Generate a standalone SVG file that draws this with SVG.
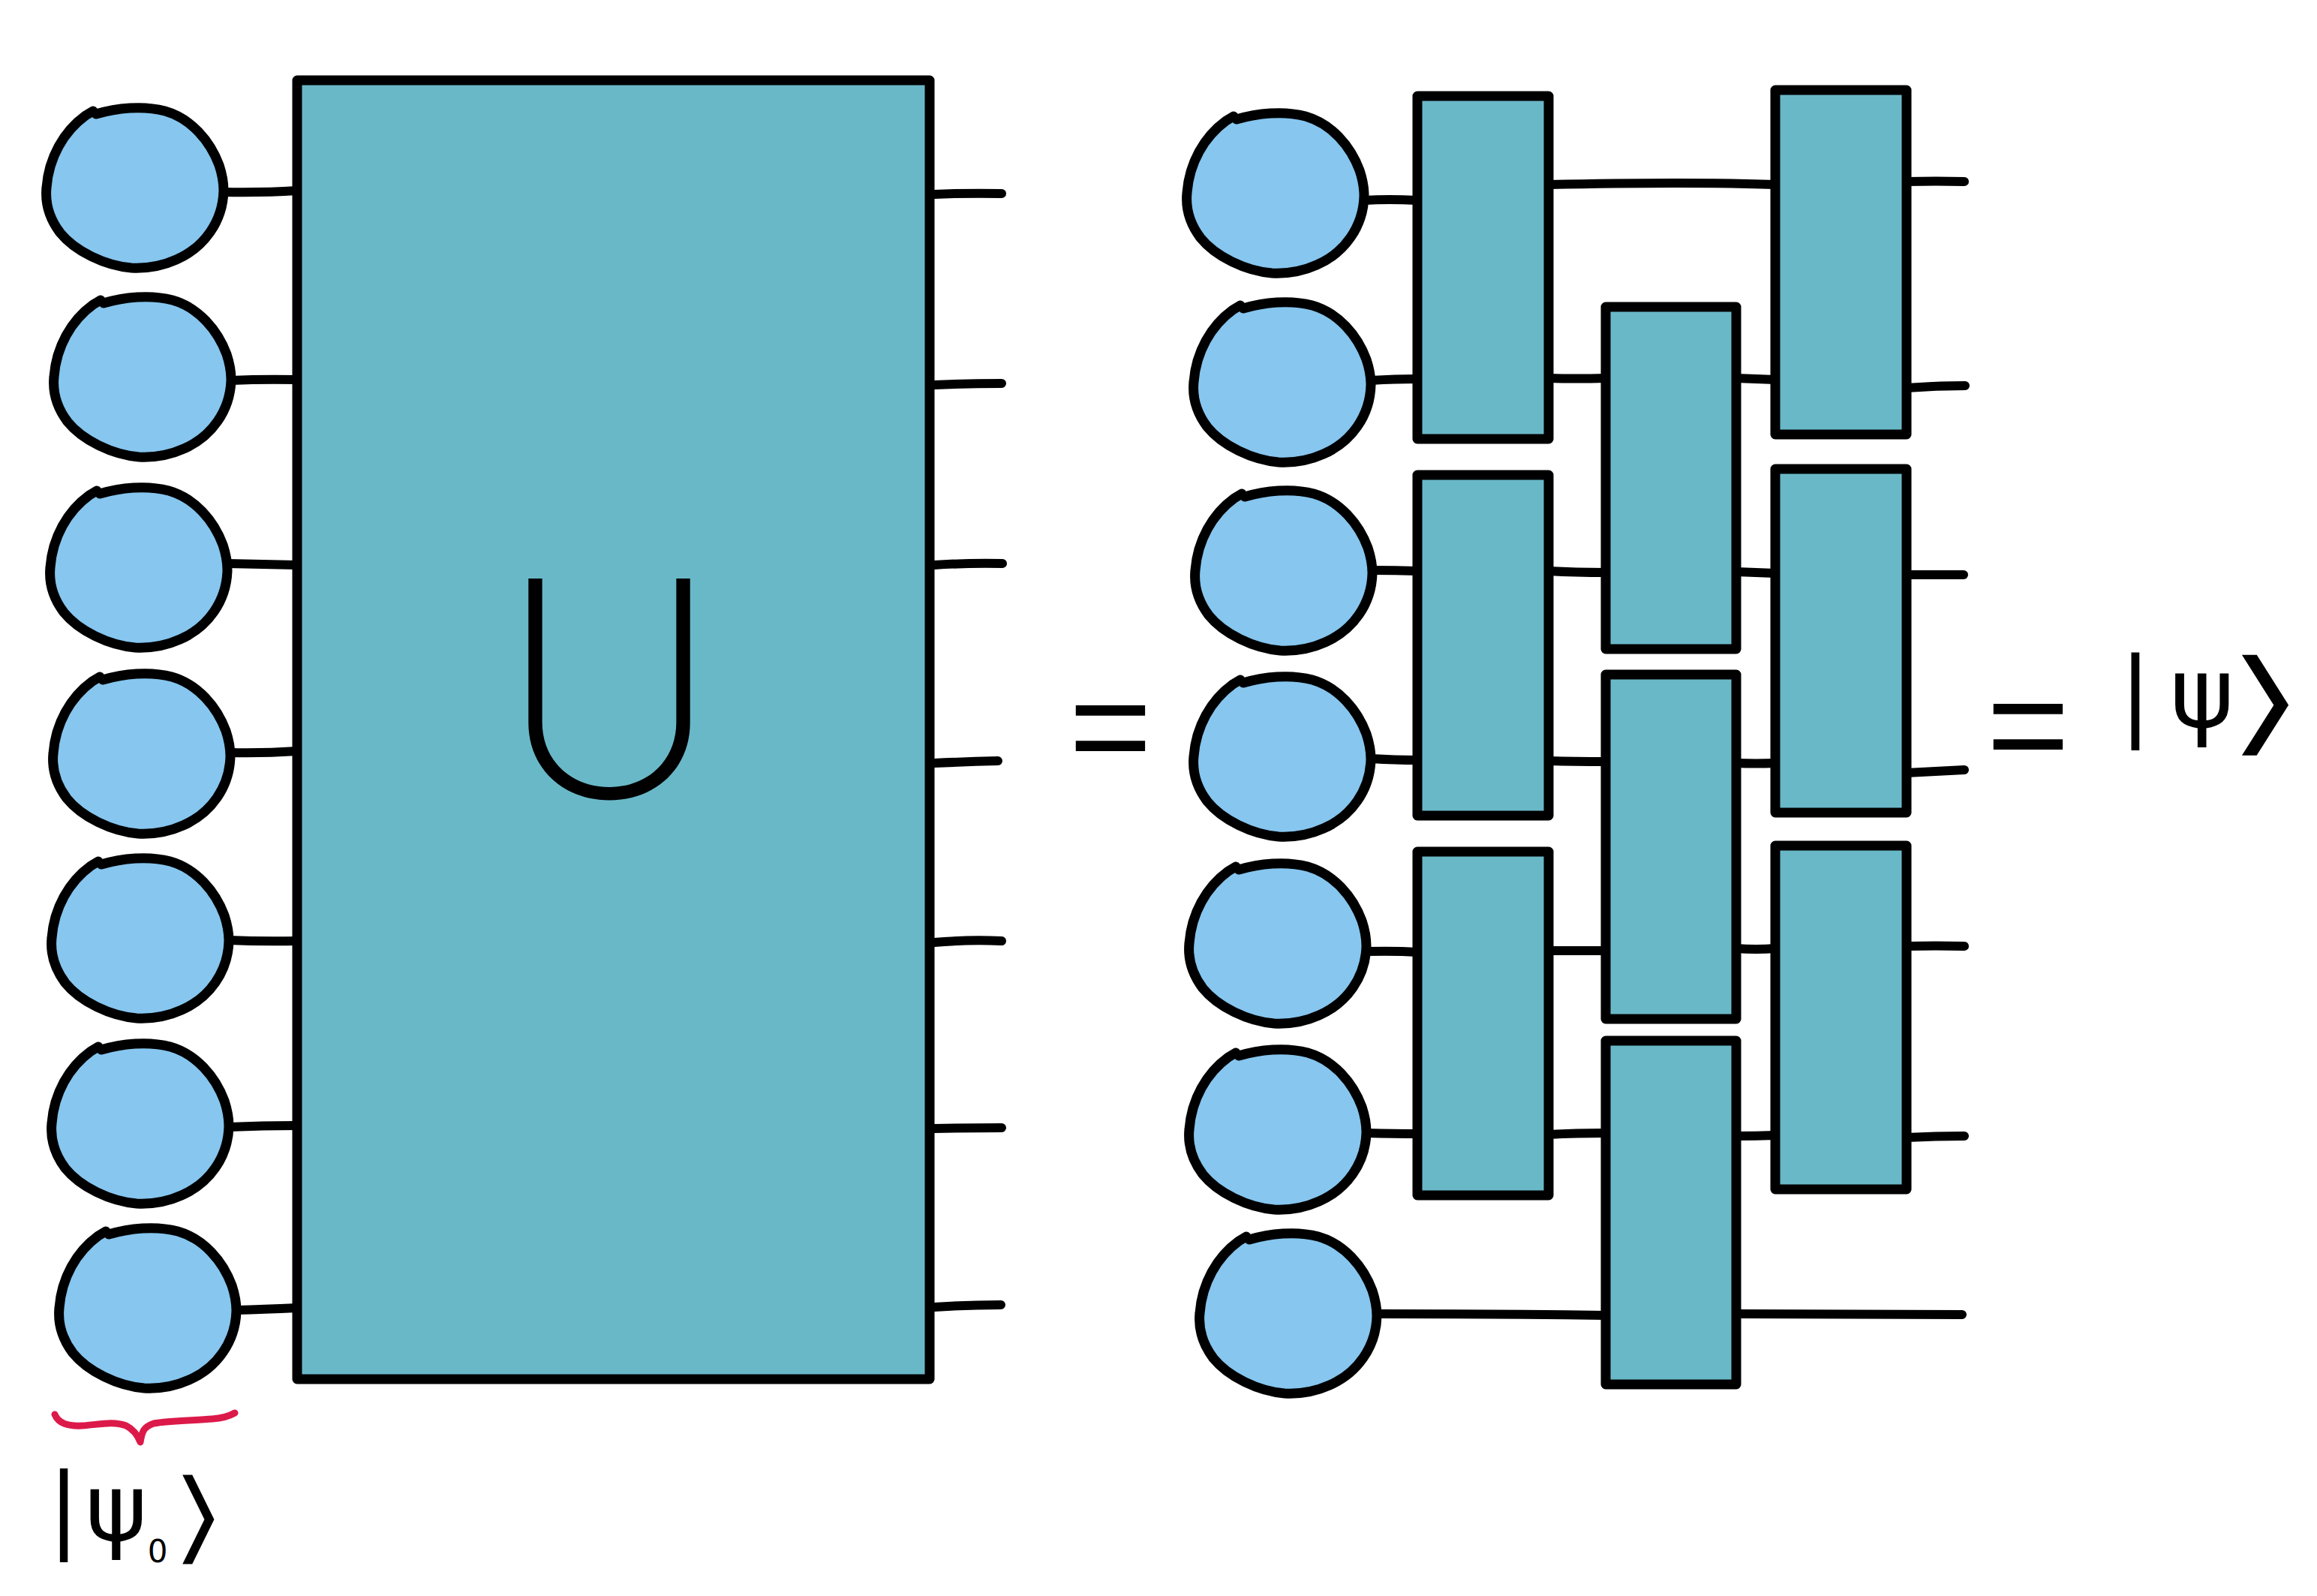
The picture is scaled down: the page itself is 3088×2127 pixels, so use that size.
<svg xmlns="http://www.w3.org/2000/svg" xmlns:xlink="http://www.w3.org/1999/xlink" width="3088" height="2127" viewBox="0 0 3088 2127">
<style>
.blob{fill:#86C6EF;stroke:#000;stroke-width:13;stroke-linejoin:round;stroke-linecap:round}
.box{fill:#69B8C8;stroke:#000;stroke-width:13;stroke-linejoin:round}
.wire{fill:none;stroke:#000;stroke-width:12;stroke-linecap:round}
.brace{fill:none;stroke:#DC1A4A;stroke-width:9;stroke-linecap:round;stroke-linejoin:round}
.math{font-family:"DejaVu Sans",sans-serif;fill:#000;text-anchor:middle}
.bra{stroke:#fff;stroke-width:3}
.eq{font-family:"Liberation Sans",sans-serif;fill:#000;text-anchor:middle}
.uop{font-family:Inter,Lato,"DejaVu Sans",sans-serif;font-weight:200;fill:#000;text-anchor:middle}
</style>
<defs>
<path id="blob" class="blob" d="M -52,-98 C -25,-106 10,-110 40,-102 C 75,-92 100,-62 112,-30 C 116,-18 118,-6 118,4 C 117,45 92,80 55,96 C 35,105 15,108 -5,107 C -40,104 -80,85 -100,60 C -115,40 -120,20 -118,0 C -115,-40 -95,-75 -66,-96 L -56,-102"/>
</defs>
<rect width="3088" height="2127" fill="#fff"/>

<g id="connectors">
<path class="wire" d="M298,256 Q350,257 396,254"/>
<path class="wire" d="M308,507 Q350,505 396,506"/>
<path class="wire" d="M303,751 Q350,752 396,753"/>
<path class="wire" d="M307,1003 Q350,1004 396,1001"/>
<path class="wire" d="M305,1253 Q350,1255 396,1254"/>
<path class="wire" d="M305,1502 Q350,1500 396,1500"/>
<path class="wire" d="M315,1746 Q350,1745 396,1743"/>
<path class="wire" d="M1245,259 Q1290,257 1335,258"/>
<path class="wire" d="M1245,513 Q1290,511 1335,511"/>
<path class="wire" d="M1245,753 Q1290,750 1336,751"/>
<path class="wire" d="M1245,1017 Q1290,1015 1330,1014"/>
<path class="wire" d="M1245,1256 Q1290,1252 1335,1254"/>
<path class="wire" d="M1245,1504 Q1290,1503 1335,1503"/>
<path class="wire" d="M1245,1742 Q1290,1739 1334,1739"/>
<path class="wire" d="M1818,267 Q1850,265 1889,267"/>
<path class="wire" d="M1827,507 Q1860,505 1889,505"/>
<path class="wire" d="M1829,760 Q1860,760 1889,761"/>
<path class="wire" d="M1827,1011 Q1860,1013 1889,1013"/>
<path class="wire" d="M1821,1268 Q1860,1267 1889,1269"/>
<path class="wire" d="M1821,1510 Q1860,1511 1889,1511"/>
<path class="wire" d="M1835,1751 Q2000,1751 2140,1753"/>
<path class="wire" d="M2064,246 Q2250,242 2366,246"/>
<path class="wire" d="M2064,504 Q2100,505 2140,504"/>
<path class="wire" d="M2064,761 Q2100,763 2140,763"/>
<path class="wire" d="M2064,1014 Q2100,1015 2140,1015"/>
<path class="wire" d="M2064,1267 Q2100,1267 2140,1267"/>
<path class="wire" d="M2064,1512 Q2100,1510 2140,1510"/>
<path class="wire" d="M2314,504 Q2340,505 2366,506"/>
<path class="wire" d="M2314,762 Q2340,763 2366,764"/>
<path class="wire" d="M2314,1017 Q2340,1018 2366,1017"/>
<path class="wire" d="M2314,1264 Q2340,1266 2366,1264"/>
<path class="wire" d="M2314,1514 Q2340,1514 2366,1513"/>
<path class="wire" d="M2314,1751 Q2470,1751 2615,1752"/>
<path class="wire" d="M2541,242 Q2580,241 2618,242"/>
<path class="wire" d="M2541,517 Q2580,514 2619,514"/>
<path class="wire" d="M2541,766 Q2580,766 2617,766"/>
<path class="wire" d="M2541,1030 Q2580,1028 2618,1026"/>
<path class="wire" d="M2541,1261 Q2580,1260 2618,1261"/>
<path class="wire" d="M2541,1516 Q2580,1514 2618,1514"/>
</g>

<g id="psi0-left-1" transform="translate(180,250)"><use href="#blob"/></g>
<g id="psi0-left-2" transform="translate(190,502)"><use href="#blob"/></g>
<g id="psi0-left-3" transform="translate(185,756)"><use href="#blob"/></g>
<g id="psi0-left-4" transform="translate(189,1004)"><use href="#blob"/></g>
<g id="psi0-left-5" transform="translate(187,1250)"><use href="#blob"/></g>
<g id="psi0-left-6" transform="translate(187,1497)"><use href="#blob"/></g>
<g id="psi0-left-7" transform="translate(197,1743)"><use href="#blob"/></g>

<g id="U-big">
<rect class="box" x="396" y="107" width="843" height="1731"/>
<text class="uop" x="812" y="1062" font-size="400">U</text>
</g>

<g id="psi0-right-1" transform="translate(1700,257)"><use href="#blob"/></g>
<g id="psi0-right-2" transform="translate(1709,509)"><use href="#blob"/></g>
<g id="psi0-right-3" transform="translate(1711,760)"><use href="#blob"/></g>
<g id="psi0-right-4" transform="translate(1709,1008)"><use href="#blob"/></g>
<g id="psi0-right-5" transform="translate(1703,1257)"><use href="#blob"/></g>
<g id="psi0-right-6" transform="translate(1703,1505)"><use href="#blob"/></g>
<g id="psi0-right-7" transform="translate(1717,1750)"><use href="#blob"/></g>

<g id="gate-A1"><rect class="box" x="1889" y="128" width="175" height="457"/></g>
<g id="gate-A2"><rect class="box" x="1889" y="633" width="175" height="454"/></g>
<g id="gate-A3"><rect class="box" x="1889" y="1135" width="175" height="458"/></g>
<g id="gate-B1"><rect class="box" x="2140" y="409" width="174" height="456"/></g>
<g id="gate-B2"><rect class="box" x="2140" y="899" width="174" height="459"/></g>
<g id="gate-B3"><rect class="box" x="2140" y="1387" width="174" height="458"/></g>
<g id="gate-C1"><rect class="box" x="2366" y="120" width="175" height="459"/></g>
<g id="gate-C2"><rect class="box" x="2366" y="625" width="175" height="458"/></g>
<g id="gate-C3"><rect class="box" x="2366" y="1127" width="175" height="458"/></g>

<g id="eq-1"><text class="eq" x="1480" y="1033" font-size="190">=</text></g>
<g id="eq-2"><text class="eq" x="2703" y="1031" font-size="190">=</text></g>

<g id="ket-psi">
<text class="math" font-size="130"><tspan x="2846" y="969">|</tspan><tspan x="2935" y="969">ψ</tspan><tspan class="bra" x="3020" y="988" font-size="154" textLength="123" lengthAdjust="spacingAndGlyphs">⟩</tspan></text>
</g>

<g id="ket-psi0">
<path class="brace" d="M73,1885 C78,1897 90,1901 110,1900 C130,1899 150,1893 168,1900 C178,1905 184,1914 187,1922 C189,1910 190,1902 205,1897 C225,1893 260,1893 283,1891 C298,1890 306,1887 313,1883"/>
<text class="math" font-size="125"><tspan x="85" y="2053">|</tspan><tspan x="155" y="2053">ψ</tspan><tspan x="210" y="2082" font-size="42">0</tspan><tspan class="bra" x="265" y="2068" font-size="137" textLength="85" lengthAdjust="spacingAndGlyphs">⟩</tspan></text>
</g>
</svg>
